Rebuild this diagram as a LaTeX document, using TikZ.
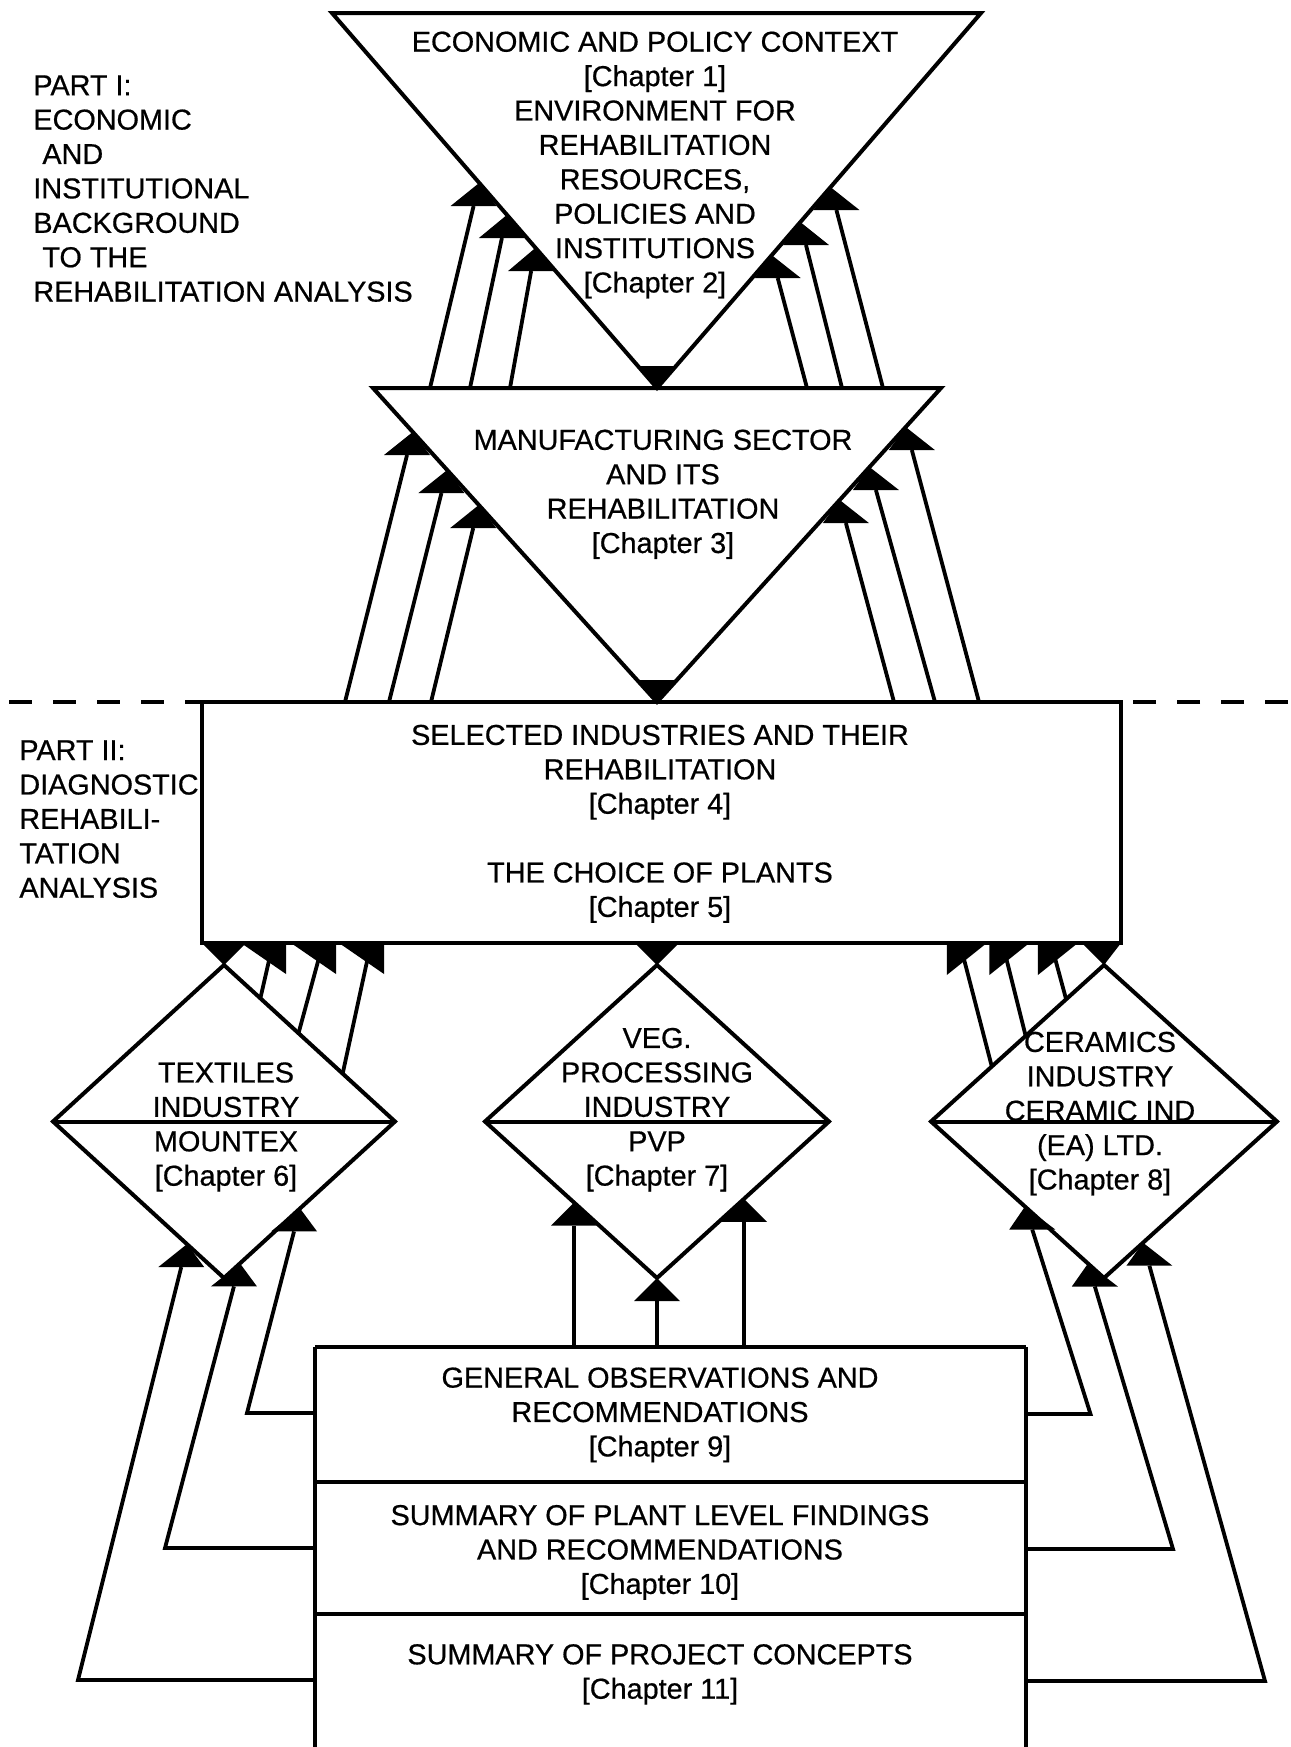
\documentclass[tikz,border=0pt]{standalone}
\usepackage{fontspec}
\setmainfont{Liberation Sans}[UprightFeatures={FakeBold=0.6}]
\usetikzlibrary{calc}

% size of the flat arrow heads
\newlength\arrH \setlength\arrH{11.5pt}
\newlength\arrW \setlength\arrW{11.5pt}

% upward connector: #1 start, #2 bend (or start again), #3 point on the target edge
\newcommand\upconn[3]{%
  \draw[conn] let \p1=(#2), \p2=(#3) in
    (#1) -- (#2) -- ({\x2+(\x1-\x2)*\arrH/(\y2-\y1)}, {\y2-\arrH});
  \fill let \p1=(#2), \p2=(#3) in
    ({\x2+(\x1-\x2)*\arrH/(\y2-\y1)-\arrW}, {\y2-\arrH})
    -- ({\x2+(\x1-\x2)*\arrH/(\y2-\y1)+\arrW}, {\y2-\arrH})
    -- (\p2) -- cycle;
}
% heads hanging under the chapter 4/5 box
\newcommand\boxheadL[1]{\fill (#1) ++(-32,0) -- ++(45,0) -- ++(0,31) -- cycle;}
\newcommand\boxheadR[1]{\fill (#1) ++(-13,0) -- ++(40,0) -- ++(-40,32) -- cycle;}

% diamond with a horizontal divider: name, centre x, half width
\newcommand\diamondat[3]{%
  \coordinate (#1-n) at (#2,965);
  \coordinate (#1-s) at (#2,1278);
  \coordinate (#1-w) at ({#2-#3},1121.5);
  \coordinate (#1-e) at ({#2+#3},1121.5);
  \draw[outline] (#1-n) -- (#1-e) -- (#1-s) -- (#1-w) -- cycle;
  \draw[outline] (#1-w) -- (#1-e);
}

\begin{document}
\begin{tikzpicture}[x=0.5pt,y=-0.5pt,
  conn/.style={line width=1.9pt, line join=miter},
  outline/.style={line width=2pt, line join=miter},
  boxline/.style={line width=1.6pt},
  dashline/.style={line width=1.6pt, dash pattern=on 11.5pt off 10.5pt},
  lbl/.style={font=\fontsize{14.4}{17.2}\selectfont, inner sep=0pt, align=center},
]
\fill[white] (0,0) rectangle (1291,1747);
\useasboundingbox (0,0) rectangle (1291,1747);

% ---------- Part I: the two inverted triangles ----------
\coordinate (T1l) at (332,13);
\coordinate (T1r) at (981,13);
\coordinate (T1a) at (657,388);
\coordinate (T2l) at (373,388);
\coordinate (T2r) at (941,388);
\coordinate (T2a) at (657,702);

\draw[outline] (T1l) -- (T1r) -- (T1a) -- cycle;
\fill (T1a) -- ++(-19,-22) -- ++(38,0) -- cycle;
\draw[outline] (T2l) -- (T2r) -- (T2a) -- cycle;
\fill (T2a) -- ++(-20,-22) -- ++(40,0) -- cycle;

% chapter 3 -> chapters 1/2
\coordinate (u1s) at (430,388);  \coordinate (u1t) at (479.1,183);
\coordinate (u2s) at (470,388);  \coordinate (u2t) at (506.8,215);
\coordinate (u3s) at (510,388);  \coordinate (u3t) at (535.3,248);
\coordinate (u4s) at (807,388);  \coordinate (u4t) at (771.6,255);
\coordinate (u5s) at (842,388);  \coordinate (u5t) at (800.2,222);
\coordinate (u6s) at (883,388);  \coordinate (u6t) at (830.4,187);
\foreach \i in {1,...,6} {\upconn{u\i s}{u\i s}{u\i t}}

% chapters 4/5 -> chapter 3
\coordinate (v1s) at (345,702);  \coordinate (v1t) at (412.8,432);
\coordinate (v2s) at (389,702);  \coordinate (v2t) at (447.2,470);
\coordinate (v3s) at (431,702);  \coordinate (v3t) at (478.8,505);
\coordinate (v4s) at (894,702);  \coordinate (v4t) at (839.7,500);
\coordinate (v5s) at (935,702);  \coordinate (v5t) at (869.5,467);
\coordinate (v6s) at (979,702);  \coordinate (v6t) at (905.7,427);
\foreach \i in {1,...,6} {\upconn{v\i s}{v\i s}{v\i t}}

% ---------- boundary between the two parts ----------
\coordinate (Bnw) at (202,702);
\coordinate (Bse) at (1121,943);
\draw[dashline] (9,702) -- (Bnw);
\draw[dashline] (1288,702) -- (1121,702);
\draw[boxline] (Bnw) rectangle (Bse);

% ---------- industry diamonds ----------
\diamondat{D6}{224}{171}
\diamondat{D7}{657}{172}
\diamondat{D8}{1104}{173}
\fill (202,943) -- (246,943) -- (D6-n) -- cycle;
\fill (635,943) -- (679,943) -- (D7-n) -- cycle;
\fill (1082,943) -- (1121,943) -- (D8-n) -- cycle;

% textiles -> chapters 4/5
\coordinate (a1s) at (260.3,998.6);  \coordinate (a1e) at (273,943);
\coordinate (a2s) at (298.5,1033.3); \coordinate (a2e) at (323,943);
\coordinate (a3s) at (342.7,1073.5); \coordinate (a3e) at (371,943);
% ceramics -> chapters 4/5
\coordinate (a4s) at (991.8,1066.5); \coordinate (a4e) at (959.8,943);
\coordinate (a5s) at (1025.7,1036);  \coordinate (a5e) at (1002.4,943);
\coordinate (a6s) at (1066.2,999.6); \coordinate (a6e) at (1050.9,943);
\foreach \i in {1,...,6} {\draw[conn] (a\i s) -- (a\i e);}
\foreach \i in {1,2,3} {\boxheadL{a\i e}}
\foreach \i in {4,5,6} {\boxheadR{a\i e}}

% ---------- Part II summary boxes ----------
\draw[boxline] (315,1347) -- (1026,1347);
\draw[boxline] (315,1482) -- (1026,1482);
\draw[boxline] (315,1614) -- (1026,1614);
\draw[boxline] (315,1347) -- (315,1760);
\draw[boxline] (1026,1347) -- (1026,1760);

% summaries -> textiles
\coordinate (w1s) at (315,1680);  \coordinate (w1b) at (78,1680);    \coordinate (w1t) at (187,1244.1);
\coordinate (w2s) at (315,1548);  \coordinate (w2b) at (165,1548);   \coordinate (w2t) at (240,1263.4);
\coordinate (w3s) at (315,1413);  \coordinate (w3b) at (247,1413);   \coordinate (w3t) at (300,1208.4);
% summaries -> ceramics
\coordinate (w4s) at (1026,1414); \coordinate (w4b) at (1090.5,1414); \coordinate (w4t) at (1025,1206.5);
\coordinate (w5s) at (1026,1549); \coordinate (w5b) at (1173,1549);   \coordinate (w5t) at (1088,1263.5);
\coordinate (w6s) at (1026,1681); \coordinate (w6b) at (1265,1681);   \coordinate (w6t) at (1143,1242.7);
\foreach \i in {1,...,6} {\upconn{w\i s}{w\i b}{w\i t}}

% summaries -> vegetable processing
\coordinate (m1s) at (574,1347);  \coordinate (m1t) at (574,1202.5);
\coordinate (m2s) at (657,1347);  \coordinate (m2t) at (D7-s);
\coordinate (m3s) at (744,1347);  \coordinate (m3t) at (744,1198.8);
\foreach \i in {1,2,3} {\upconn{m\i s}{m\i s}{m\i t}}

% ---------- texts ----------
\node[lbl, align=left, anchor=west] (part1) at (33,188.6)
  {PART I:\\ECONOMIC\\\hspace*{4.5pt}AND\\INSTITUTIONAL\\BACKGROUND\\\hspace*{4.5pt}TO THE\\REHABILITATION ANALYSIS};
\node[lbl, align=left, anchor=west] (part2) at (19,819.1)
  {PART II:\\DIAGNOSTIC\\REHABILI-\\TATION\\ANALYSIS};

\node[lbl] (ch12) at (655,165)
  {ECONOMIC AND POLICY CONTEXT\\{[Chapter 1]}\\ENVIRONMENT FOR\\REHABILITATION\\RESOURCES,\\POLICIES AND\\INSTITUTIONS\\{[Chapter 2]}};
\node[lbl] (ch3) at (663,494.3)
  {MANUFACTURING SECTOR\\AND ITS\\REHABILITATION\\{[Chapter 3]}};
\node[lbl] (ch45) at (660,823.8)
  {SELECTED INDUSTRIES AND THEIR\\REHABILITATION\\{[Chapter 4]}\\[17.2pt]THE CHOICE OF PLANTS\\{[Chapter 5]}};

\node[lbl] (ch6) at (226,1127)
  {TEXTILES\\INDUSTRY\\MOUNTEX\\{[Chapter 6]}};
\node[lbl] (ch7) at (657,1109.7)
  {VEG.\\PROCESSING\\INDUSTRY\\PVP\\{[Chapter 7]}};
\node[lbl] (ch8) at (1100,1113.6)
  {CERAMICS\\INDUSTRY\\CERAMIC IND\\(EA) LTD.\\{[Chapter 8]}};

\node[lbl] (ch9) at (660,1414.9)
  {GENERAL OBSERVATIONS AND\\RECOMMENDATIONS\\{[Chapter 9]}};
\node[lbl] (ch10) at (660,1552.4)
  {SUMMARY OF PLANT LEVEL FINDINGS\\AND RECOMMENDATIONS\\{[Chapter 10]}};
\node[lbl] (ch11) at (660,1674.4)
  {SUMMARY OF PROJECT CONCEPTS\\{[Chapter 11]}};
\end{tikzpicture}
\end{document}
